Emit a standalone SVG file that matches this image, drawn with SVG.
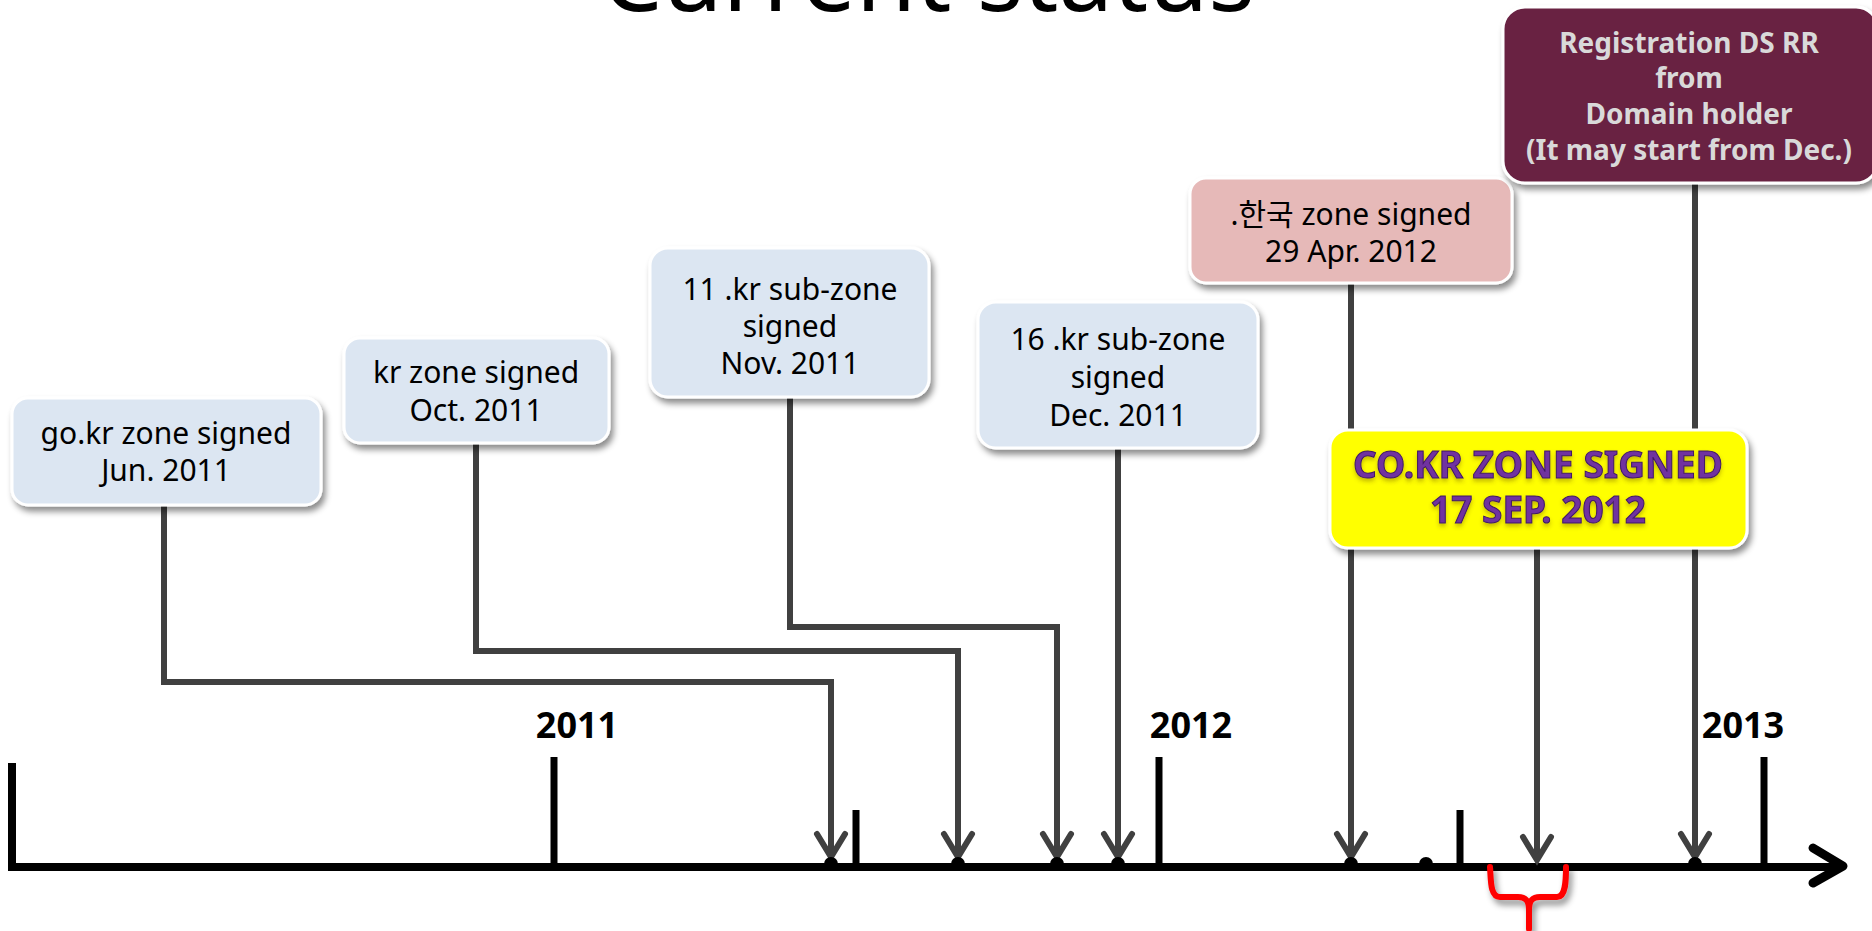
<svg xmlns="http://www.w3.org/2000/svg" width="1872" height="931" viewBox="0 0 1872 931">
  <defs>
    <filter id="shadow" x="-10%" y="-10%" width="125%" height="135%">
      <feDropShadow dx="3" dy="5" stdDeviation="3" flood-color="#000" flood-opacity="0.45"/>
    </filter>
    <filter id="txtshadow" x="-5%" y="-20%" width="110%" height="160%">
      <feDropShadow dx="0" dy="3" stdDeviation="2" flood-color="#5a3a00" flood-opacity="0.35"/>
    </filter>
    <marker id="chev" markerUnits="userSpaceOnUse" viewBox="-32 -20 40 40" markerWidth="40" markerHeight="40" refX="0" refY="0" orient="auto" overflow="visible">
      <path d="M-23,-14 L0,0 L-23,14" fill="none" stroke="#404040" stroke-width="6" stroke-linecap="round" stroke-linejoin="miter"/>
    </marker>
  </defs>
  <style>
    .box { stroke: #ffffff; stroke-width: 3; filter: url(#shadow); }
    .blue { fill: #DCE6F2; }
    .t { font-family: "Noto Sans", "Noto Sans CJK KR", sans-serif; font-size: 30px; fill: #000; text-anchor: middle; }
    .reg { font-family: "Noto Sans", sans-serif; font-weight: bold; font-size: 28px; fill: #D9D9D9; text-anchor: middle; }
    .co { font-family: "Noto Sans", sans-serif; font-weight: bold; font-size: 37px; fill: #7030A0; stroke: #3F1766; stroke-width: 1; text-anchor: middle; filter: url(#txtshadow); }
    .yr { font-family: "Noto Sans", sans-serif; font-weight: bold; font-size: 36px; fill: #000; text-anchor: middle; }
    .conn { fill: none; stroke: #404040; stroke-width: 6; marker-end: url(#chev); }
    .axis { stroke: #000; stroke-width: 8; fill: none; }
    .tick { stroke: #000; stroke-width: 7; }
  </style>
  <rect width="1872" height="931" fill="#ffffff"/>

  <g id="title">
    <text x="928" y="11" font-family="Noto Sans, sans-serif" font-size="98" fill="#000" text-anchor="middle" textLength="654" lengthAdjust="spacingAndGlyphs">Current status</text>
  </g>

  <g id="timeline">
    <path class="axis" d="M12,763 V867 H1838" stroke-linecap="butt"/>
    <path d="M1813,848 L1843,866 L1813,883" fill="none" stroke="#000" stroke-width="9" stroke-linecap="round" stroke-linejoin="round"/>
    <line class="tick" x1="554" y1="757" x2="554" y2="866"/>
    <line class="tick" x1="1159" y1="757" x2="1159" y2="866"/>
    <line class="tick" x1="1764" y1="757" x2="1764" y2="866"/>
    <line class="tick" x1="856" y1="810" x2="856" y2="866"/>
    <line class="tick" x1="1460" y1="810" x2="1460" y2="866"/>
    <text class="yr" x="577" y="738">2011</text>
    <text class="yr" x="1191" y="738">2012</text>
    <text class="yr" x="1743" y="738">2013</text>
  </g>

  <g id="connectors">
    <path class="conn" d="M164,505 V682 H831 V857"/>
    <path class="conn" d="M476,443 V651 H958 V857"/>
    <path class="conn" d="M790,397 V627 H1057 V857"/>
    <path class="conn" d="M1118,448 V857"/>
    <path class="conn" d="M1351,283 V857"/>
    <path class="conn" d="M1537,548 V860"/>
    <path class="conn" d="M1695,183 V857"/>
  </g>

  <g id="dots" fill="#000">
    <circle cx="831" cy="864" r="7"/>
    <circle cx="958" cy="864" r="7"/>
    <circle cx="1057" cy="864" r="7"/>
    <circle cx="1118" cy="864" r="7"/>
    <circle cx="1351" cy="864" r="7"/>
    <circle cx="1426" cy="864" r="7"/>
    <circle cx="1695" cy="864" r="7"/>
  </g>

  <g id="brace">
    <path d="M1490,867 C1491,880 1490,897 1500,897 L1518,897 C1526,897 1529,901 1529,910 L1529,929 M1529,910 C1529,901 1532,897 1540,897 L1557,897 C1566,897 1566,880 1566,867" fill="none" stroke="#FF0000" stroke-width="6" stroke-linecap="round" stroke-linejoin="round" filter="url(#shadow)"/>
  </g>

  <g id="node-gokr">
    <rect class="box blue" x="12" y="398" width="309" height="107" rx="16"/>
    <text class="t" x="166" y="444">go.kr zone signed</text>
    <text class="t" x="166" y="481">Jun. 2011</text>
  </g>

  <g id="node-kr">
    <rect class="box blue" x="344" y="338" width="265" height="105" rx="16"/>
    <text class="t" x="476" y="383">kr zone signed</text>
    <text class="t" x="476" y="421">Oct. 2011</text>
  </g>

  <g id="node-11kr">
    <rect class="box blue" x="650" y="248" width="279" height="149" rx="18"/>
    <text class="t" x="790" y="300">11 .kr sub-zone</text>
    <text class="t" x="790" y="337">signed</text>
    <text class="t" x="790" y="374">Nov. 2011</text>
  </g>

  <g id="node-16kr">
    <rect class="box blue" x="978" y="302" width="280" height="146" rx="18"/>
    <text class="t" x="1118" y="350">16 .kr sub-zone</text>
    <text class="t" x="1118" y="388">signed</text>
    <text class="t" x="1118" y="426">Dec. 2011</text>
  </g>

  <g id="node-hankook">
    <rect class="box" x="1190" y="178" width="322" height="105" rx="16" fill="#E6B9B8"/>
    <text class="t" x="1351" y="225">.한국 zone signed</text>
    <text class="t" x="1351" y="262">29 Apr. 2012</text>
  </g>

  <g id="node-registration">
    <rect class="box" x="1503" y="7" width="375" height="176" rx="22" fill="#692243"/>
    <text class="reg" x="1689" y="53">Registration DS RR</text>
    <text class="reg" x="1689" y="88">from</text>
    <text class="reg" x="1689" y="124">Domain holder</text>
    <text class="reg" x="1689" y="160">(It may start from Dec.)</text>
  </g>

  <g id="node-cokr">
    <rect class="box" x="1330" y="430" width="417" height="118" rx="18" fill="#FFFF00"/>
    <text class="co" x="1538" y="478">CO.KR ZONE SIGNED</text>
    <text class="co" x="1538" y="523">17 SEP. 2012</text>
  </g>
</svg>
